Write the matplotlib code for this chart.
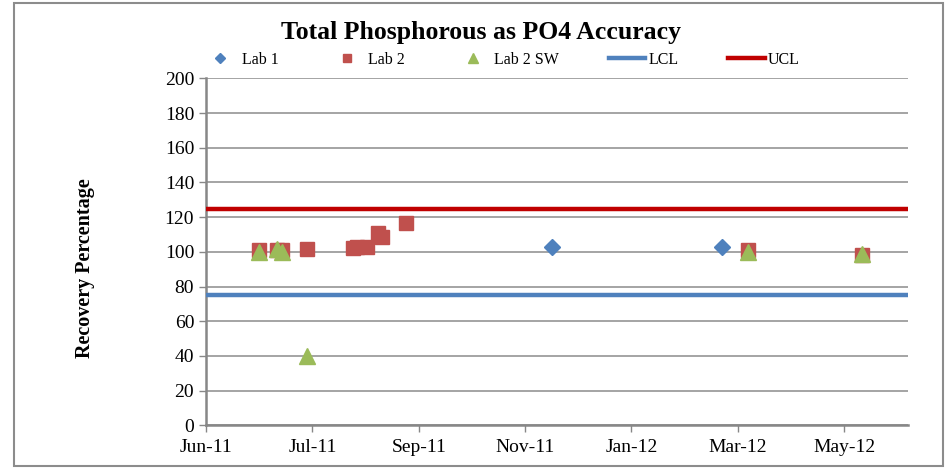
"""
Gráfico de control: exactitud de Fósforo Total como PO4 (porcentaje de recuperación).
Genera: out.png
"""

import matplotlib

matplotlib.use("Agg")
import matplotlib.dates as mdates
import matplotlib.pyplot as plt
import numpy as np
from matplotlib.lines import Line2D
from matplotlib.patches import Rectangle

# --- datos ---
lab1_dates = ["2011-12-13", "2012-03-18"]
lab1_values = [103, 103]

lab2_dates = ["2011-07-01", "2011-07-11", "2011-07-14", "2011-07-28", "2011-08-23",
              "2011-08-25", "2011-08-31", "2011-09-06", "2011-09-08", "2011-09-22",
              "2012-04-02", "2012-06-05"]
lab2_values = [101, 101, 101, 101.5, 102, 103, 103, 111, 108.5, 116.5, 101, 98]

lab2sw_dates = ["2011-07-01", "2011-07-11", "2011-07-14", "2011-07-28", "2012-04-02",
                "2012-06-05"]
lab2sw_values = [100, 101.5, 100, 40, 100, 99]

lcl_value = 75
ucl_value = 125

axis_start = "2011-06-01"
axis_end = "2012-07-01"
major_unit_days = 60

BLUE = "#4F81BD"
RED = "#C0504D"
GREEN = "#9BBB59"
DARK_RED = "#C00000"
GRID = "#8C8C8C"

plt.rcParams["font.family"] = ["Liberation Serif", "DejaVu Serif"]


def to_dates(values):
    return np.array(values, dtype="datetime64[D]")


fig = plt.figure(figsize=(9.52, 4.70), dpi=100)
ax = fig.add_axes([206 / 952, 1 - 425.4 / 470, (908 - 206) / 952, (425.4 - 78.4) / 470])

x0, x1 = to_dates([axis_start, axis_end])
ax.set_xlim(x0, x1)
ax.set_ylim(0, 200)

# líneas de control a todo lo ancho
ax.plot([x0, x1], [lcl_value, lcl_value], color=BLUE, lw=3.2, zorder=3, solid_capstyle="butt")
ax.plot([x0, x1], [ucl_value, ucl_value], color=DARK_RED, lw=3.2, zorder=3, solid_capstyle="butt")

ax.plot(to_dates(lab1_dates), lab1_values, ls="none", marker="D", ms=8.5,
        color=BLUE, zorder=4)
ax.plot(to_dates(lab2_dates), lab2_values, ls="none", marker="s", ms=10,
        color=RED, zorder=4)
ax.plot(to_dates(lab2sw_dates), lab2sw_values, ls="none", marker="^", ms=11,
        color=GREEN, zorder=5)

# ejes
ticks = np.arange(x0, x1, np.timedelta64(major_unit_days, "D"))
ax.set_xticks(ticks)
ax.xaxis.set_major_formatter(mdates.DateFormatter("%b-%y"))
ax.set_yticks(np.arange(0, 201, 20))
ax.grid(axis="y", color=GRID, lw=1.1)
ax.set_axisbelow(True)
for side in ("top", "right"):
    ax.spines[side].set_visible(False)
for side in ("left", "bottom"):
    ax.spines[side].set_color("#878787")
    ax.spines[side].set_linewidth(1.8)
ax.tick_params(axis="both", colors="#878787", length=5, width=1, labelsize=14,
               labelcolor="black")
ax.tick_params(axis="x", pad=5)

fig.text(85 / 952, 1 - 268 / 470, "Recovery Percentage", rotation=90, ha="center",
         va="center", fontsize=14.5, fontweight="bold")
fig.text(481 / 952, 1 - 32 / 470, "Total Phosphorous as PO4 Accuracy", ha="center",
         va="center", fontsize=18.5, fontweight="bold")

handles = [
    Line2D([], [], ls="none", marker="D", ms=5, color=BLUE),
    Line2D([], [], ls="none", marker="s", ms=6, color=RED),
    Line2D([], [], ls="none", marker="^", ms=6.5, color=GREEN),
    Line2D([], [], color=BLUE, lw=3.2),
    Line2D([], [], color=DARK_RED, lw=3.2),
]
fig.legend(handles, ["Lab 1", "Lab 2", "Lab 2 SW", "LCL", "UCL"], ncol=5,
           loc="center", bbox_to_anchor=(501 / 952, 1 - 60 / 470), frameon=False,
           fontsize=11.5, handlelength=2.3, handletextpad=0.2, columnspacing=3.1)

# borde exterior del gráfico
fig.patches.append(Rectangle((14 / 952, 4 / 470), (943 - 14) / 952, (467 - 4) / 470,
                             transform=fig.transFigure, fill=False,
                             edgecolor="#8C8C8C", lw=1.5))

fig.savefig("out.png", dpi=100)
